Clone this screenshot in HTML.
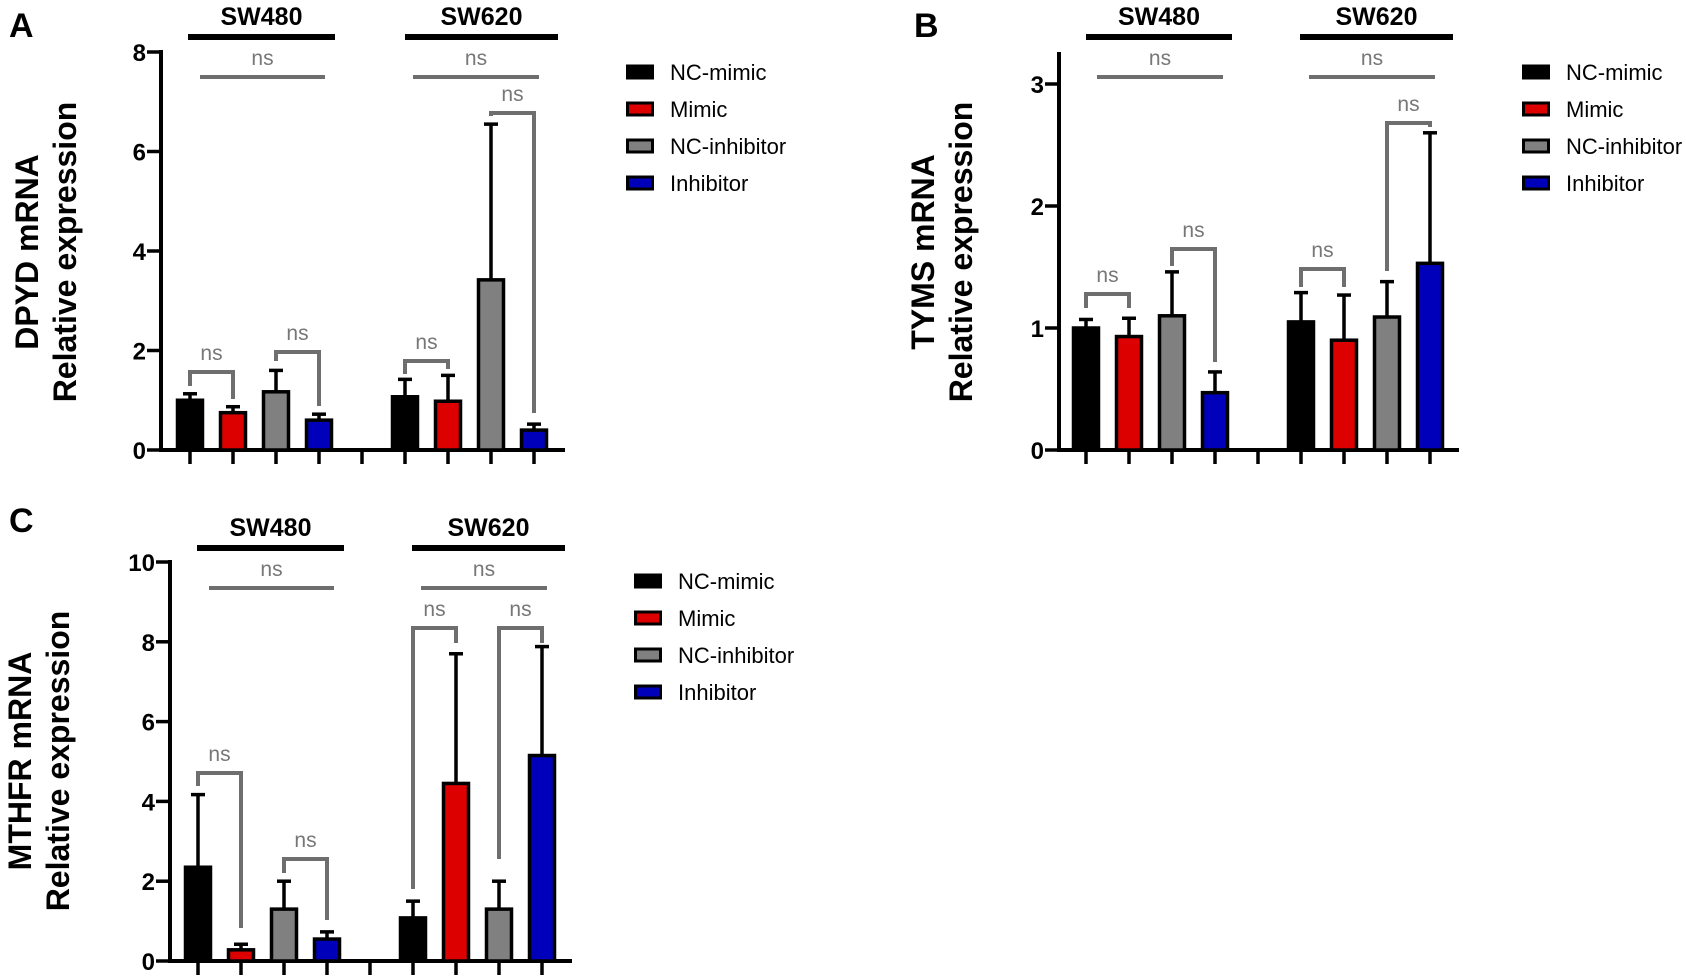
<!DOCTYPE html>
<html><head><meta charset="utf-8">
<style>
html,body{margin:0;padding:0;background:#fff;}
svg{display:block;font-family:"Liberation Sans",Arial,sans-serif;}
</style></head>
<body>
<svg id="fig" width="1686" height="979" viewBox="0 0 1686 979"></svg>
<script>
// ---- data ----
const categories = ["NC-mimic","Mimic","NC-inhibitor","Inhibitor"];
const groups = ["SW480","SW620"];
const colors = ["#000000","#dd0000","#808080","#0000bb"];
// Panel A: DPYD
const dpydMeans = [1.0,0.75,1.17,0.6, 1.07,0.98,3.42,0.4];
const dpydErrTop = [1.13,0.87,1.6,0.72, 1.42,1.5,6.55,0.52];
const dpydTicks = [0,2,4,6,8];
// Panel B: TYMS
const tymsMeans = [1.0,0.93,1.1,0.47, 1.05,0.9,1.09,1.53];
const tymsErrTop = [1.07,1.08,1.46,0.64, 1.29,1.27,1.38,2.6];
const tymsTicks = [0,1,2,3];
// Panel C: MTHFR
const mthfrMeans = [2.35,0.28,1.3,0.55, 1.08,4.45,1.3,5.15];
const mthfrErrTop = [4.17,0.42,2.0,0.73, 1.5,7.7,2.0,7.88];
const mthfrTicks = [0,2,4,6,8,10];

const NS="http://www.w3.org/2000/svg";
const svg=document.getElementById('fig');
function mk(tag,attrs,parent,text){const e=document.createElementNS(NS,tag);for(const k in attrs)e.setAttribute(k,attrs[k]);if(text!==undefined)e.textContent=text;(parent||svg).appendChild(e);return e;}

function panel(cfg){
  const g=mk('g',{});
  
  
  const y=v=>cfg.y0-(v-0)*(cfg.y0-cfg.yTop)/cfg.maxV;
  const slot=i=>cfg.x0+cfg.step*(i<4?i:i+1);
  const L=mk('text',{x:cfg.letterX,y:cfg.letterY,'font-size':34,'font-weight':'bold'},g,cfg.letter);
  
  
  const tt=mk('text',{transform:`translate(${cfg.titleX},${cfg.titleY}) rotate(-90)`,'font-size':32,'font-weight':'bold','text-anchor':'middle'},g);
  
  
  mk('tspan',{x:0,dy:0},tt,cfg.title);
  mk('tspan',{x:0,dy:38},tt,'Relative expression');
  const ya=mk('line',{x1:cfg.ax,y1:cfg.yTopAxis,x2:cfg.ax,y2:cfg.y0+2,stroke:'#000','stroke-width':4},g);
  
  
  cfg.ticks.forEach(t=>{
    const ln=mk('line',{x1:cfg.ax-14,y1:y(t),x2:cfg.ax,y2:y(t),stroke:'#000','stroke-width':3.5},g);
    
    
    const tx=mk('text',{x:cfg.ax-15,y:y(t)+9,'font-size':24,'font-weight':'bold','text-anchor':'end'},g,String(t));
    
    
  });
  const xa=mk('line',{x1:cfg.ax-2,y1:cfg.y0,x2:cfg.axEnd,y2:cfg.y0,stroke:'#000','stroke-width':4},g);
  
  
  for(let i=0;i<9;i++){
    const xx=cfg.x0+cfg.step*i;
    const t=mk('line',{x1:xx,y1:cfg.y0,x2:xx,y2:cfg.y0+14,stroke:'#000','stroke-width':3.5},g);
    
    
  }
  cfg.means.forEach((m,i)=>{
    const cx=slot(i), c=i%4;
    const e=mk('line',{x1:cx,y1:y(cfg.err[i]),x2:cx,y2:y(m),stroke:'#000','stroke-width':3.5},g);
    
    
    const cap=mk('line',{x1:cx-7,y1:y(cfg.err[i]),x2:cx+7,y2:y(cfg.err[i]),stroke:'#000','stroke-width':3.5},g);
    
    
    const b=mk('rect',{x:cx-12.5,y:y(m),width:25,height:cfg.y0-y(m),fill:colors[c],stroke:'#000','stroke-width':3.5},g);
    
    
  });
  [0,1].forEach(k=>{
    const a=cfg.groupLines[k];
    const l=mk('line',{x1:a[0],y1:cfg.groupLineY,x2:a[1],y2:cfg.groupLineY,stroke:'#000','stroke-width':6},g);
    
    
    const t=mk('text',{x:(a[0]+a[1])/2,y:cfg.groupLineY-12,'font-size':25,'font-weight':'bold','text-anchor':'middle'},g,groups[k]);
    
    
    const n=cfg.nsLines[k];
    const nl=mk('line',{x1:n[0],y1:cfg.nsLineY,x2:n[1],y2:cfg.nsLineY,stroke:'#6e6e6e','stroke-width':4},g);
    
    
    const nt=mk('text',{x:(n[0]+n[1])/2,y:cfg.nsLineY-12,'font-size':21,fill:'#777','text-anchor':'middle'},g,'ns');
    
    
  });
  cfg.brackets.forEach(br=>{
    const xl=slot(br[0]), xr=slot(br[1]);
    const p=mk('polyline',{points:`${xl},${br[3]} ${xl},${br[2]} ${xr},${br[2]} ${xr},${br[4]}`,fill:'none',stroke:'#6e6e6e','stroke-width':4},g);
    
    
    const t=mk('text',{x:(xl+xr)/2,y:br[2]-12,'font-size':21,fill:'#777','text-anchor':'middle'},g,'ns');
    
    
  });
  categories.forEach((c,i)=>{
    const yy=cfg.legY+i*cfg.legStep;
    const r=mk('rect',{x:cfg.legX+1.5,y:yy-6,width:25,height:12,fill:colors[i],stroke:'#000','stroke-width':3},g);
    
    
    const t=mk('text',{x:cfg.legX+44,y:yy+8,'font-size':22},g,c);
    
    
  });
}

panel({name:'panel-a-dpyd',letter:'A',letterX:9,letterY:37,title:'DPYD mRNA',titleX:38,titleY:252,
  means:dpydMeans,err:dpydErrTop,ticks:dpydTicks,maxV:8,y0:450,yTop:52,yTopAxis:50,ax:161,axEnd:565,x0:190,step:43,
  groupLineY:37,groupLines:[[188,335],[405,558]],nsLineY:77,nsLines:[[200,325],[413,539]],
  brackets:[[0,1,372,386,399],[2,3,352,361,406],[4,5,361,374,369],[6,7,113,116,413]],
  legX:626,legY:72,legStep:37});
panel({name:'panel-b-tyms',letter:'B',letterX:914,letterY:37,title:'TYMS mRNA',titleX:934,titleY:252,
  means:tymsMeans,err:tymsErrTop,ticks:tymsTicks,maxV:3,y0:450,yTop:84,yTopAxis:52,ax:1059,axEnd:1459,x0:1086,step:43,
  groupLineY:37,groupLines:[[1086,1232],[1300,1453]],nsLineY:77,nsLines:[[1097,1223],[1309,1435]],
  brackets:[[0,1,294,308,308],[2,3,249,266,362],[4,5,269,287,287],[6,7,123,271,127]],
  legX:1522,legY:72,legStep:37});
panel({name:'panel-c-mthfr',letter:'C',letterX:9,letterY:532,title:'MTHFR mRNA',titleX:31,titleY:761,
  means:mthfrMeans,err:mthfrErrTop,ticks:mthfrTicks,maxV:10,y0:961,yTop:562,yTopAxis:560,ax:170,axEnd:572,x0:198,step:43,
  groupLineY:548,groupLines:[[197,344],[412,565]],nsLineY:588,nsLines:[[209,334],[421,547]],
  brackets:[[0,1,773,786,928],[2,3,859,873,920],[4,5,628,889,643],[6,7,628,859,643]],
  legX:634,legY:581,legStep:37});
</script>
</body></html>
